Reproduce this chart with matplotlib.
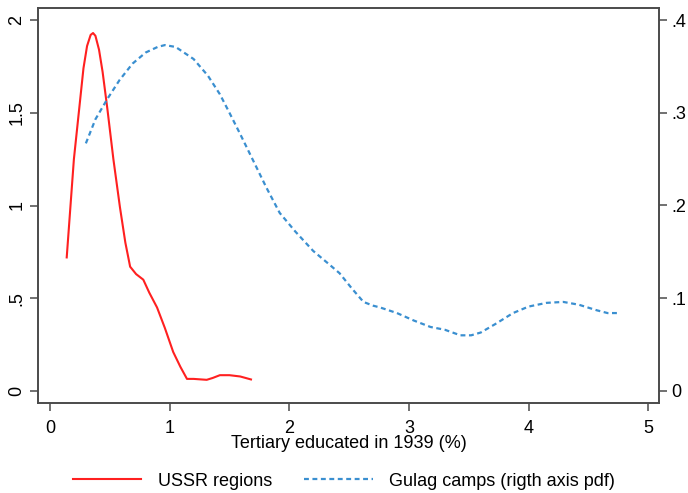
import matplotlib.pyplot as plt
from matplotlib.lines import Line2D

plt.rcParams['font.family'] = ['Liberation Sans', 'DejaVu Sans']

# Densité des régions URSS (axe de gauche)
ussr_x = [0.14, 0.20, 0.28, 0.31, 0.34, 0.36, 0.38, 0.41, 0.44, 0.48, 0.53, 0.585, 0.63, 0.67,
          0.72, 0.78, 0.83, 0.895, 0.96, 1.03, 1.09, 1.145, 1.20, 1.31, 1.36, 1.42,
          1.50, 1.59, 1.68]
ussr_y = [0.72, 1.25, 1.74, 1.86, 1.92, 1.93, 1.915, 1.84, 1.72, 1.52, 1.25, 0.99, 0.80, 0.67,
          0.63, 0.60, 0.53, 0.45, 0.34, 0.21, 0.13, 0.065, 0.065, 0.06, 0.07, 0.085,
          0.085, 0.078, 0.062]

# Densité des camps du Goulag (axe de droite)
gulag_x = [0.30, 0.38, 0.48, 0.58, 0.69, 0.80, 0.90, 0.96, 1.05, 1.20, 1.32, 1.42,
           1.50, 1.59, 1.70, 1.81, 1.92, 2.05, 2.20, 2.32, 2.42, 2.52, 2.62, 2.70,
           2.76, 2.90, 3.04, 3.18, 3.30, 3.43, 3.52, 3.60, 3.72, 3.87, 4.00, 4.15,
           4.29, 4.42, 4.57, 4.66, 4.74]
gulag_y = [0.267, 0.293, 0.315, 0.335, 0.353, 0.365, 0.371, 0.373, 0.371, 0.358, 0.340, 0.320,
           0.300, 0.277, 0.248, 0.219, 0.192, 0.172, 0.151, 0.138, 0.127, 0.111, 0.096, 0.092,
           0.090, 0.084, 0.076, 0.069, 0.066, 0.060, 0.060, 0.063, 0.072, 0.084, 0.091, 0.095,
           0.096, 0.093, 0.087, 0.084, 0.084]

fig = plt.figure(figsize=(6.88, 4.93), dpi=100)
ax = fig.add_axes([38 / 688, 1 - 403 / 493, 621 / 688, 395 / 493])
ax2 = ax.twinx()

ax.plot(ussr_x, ussr_y, color='#ff2020', lw=1.5)
ax2.plot(gulag_x, gulag_y, color='#3a8fd0', lw=1.6, linestyle=(0, (2.2, 1.6)))

ax.set_xlim(-0.1, 5.09)
ax.set_ylim(-0.065, 2.065)
ax2.set_ylim(-0.013, 0.413)

ax.set_xticks([0, 1, 2, 3, 4, 5])
ax.set_xticklabels(['0', '1', '2', '3', '4', '5'], fontsize=13)
ax.set_yticks([0, 0.5, 1, 1.5, 2])
ax.set_yticklabels(['0', '.5', '1', '1.5', '2'], fontsize=13, rotation=90, va='center')
ax2.set_yticks([0, 0.1, 0.2, 0.3, 0.4])
ax2.set_yticklabels(['0', '.1', '.2', '.3', '.4'], fontsize=13)

for a in (ax, ax2):
    for s in a.spines.values():
        s.set_color('#4a4a4a')
        s.set_linewidth(1.2)
    a.tick_params(length=6, width=1.1, color='#4a4a4a', pad=3)
ax.tick_params(axis='x', pad=6)

ax.set_xlabel('Tertiary educated in 1939 (%)', fontsize=13, labelpad=-1)

handles = [Line2D([], [], color='#ff2020', lw=1.5),
           Line2D([], [], color='#3a8fd0', lw=1.6, linestyle=(0, (2.2, 1.6)))]
fig.legend(handles, ['USSR regions', 'Gulag camps (rigth axis pdf)'],
           loc='center', bbox_to_anchor=(0.5, 1 - 481 / 493), ncol=2, frameon=False,
           fontsize=13, handlelength=3.8, columnspacing=1.8, handletextpad=0.9)

fig.savefig('out.png', dpi=100)
